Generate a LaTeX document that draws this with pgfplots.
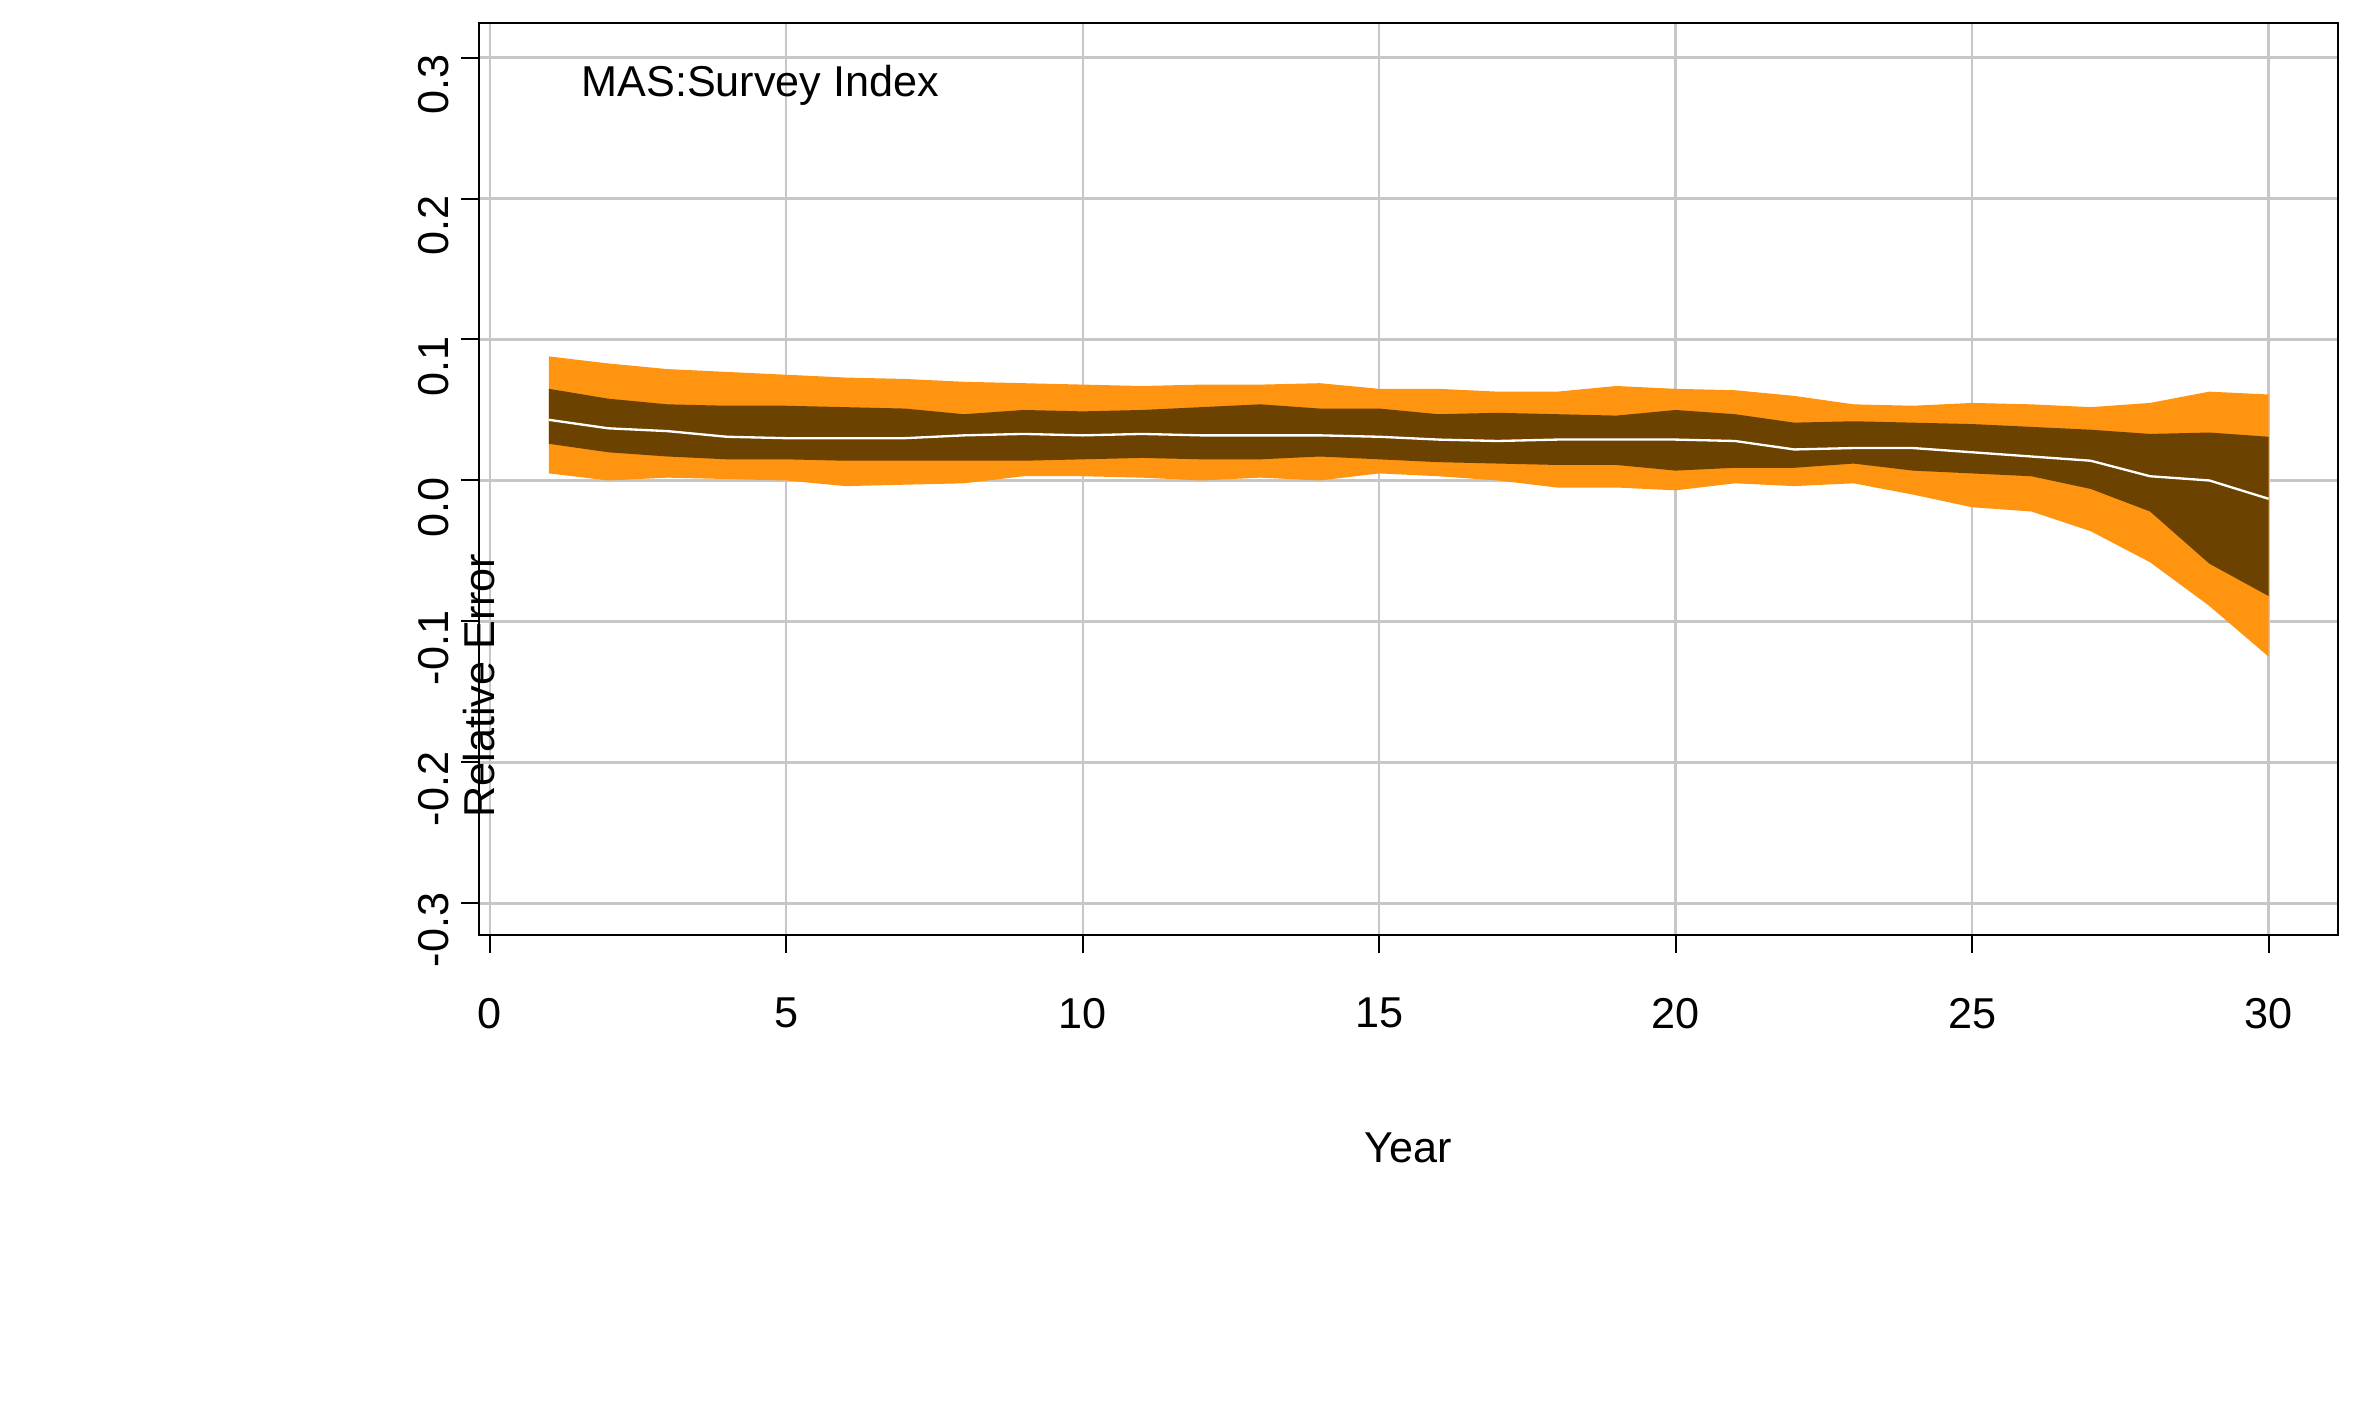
\documentclass[border=0pt]{standalone}
\usepackage{pgfplots}
\pgfplotsset{compat=1.18}
\usepgfplotslibrary{fillbetween}
\usepackage{fontspec}
\setmainfont{Liberation Sans}
\definecolor{orng}{HTML}{FF9410}
\definecolor{brwn}{HTML}{6B4200}
\begin{document}
\begin{tikzpicture}
\pgfplotstableread{
x ou ol iu il md
1 0.088 0.005 0.065 0.026 0.043
2 0.083 0.000 0.058 0.020 0.037
3 0.079 0.002 0.054 0.017 0.035
4 0.077 0.001 0.053 0.015 0.031
5 0.075 0.000 0.053 0.015 0.030
6 0.073 -0.004 0.052 0.014 0.030
7 0.072 -0.003 0.051 0.014 0.030
8 0.070 -0.002 0.047 0.014 0.032
9 0.069 0.003 0.050 0.014 0.033
10 0.068 0.003 0.049 0.015 0.032
11 0.067 0.002 0.050 0.016 0.033
12 0.068 0.000 0.052 0.015 0.032
13 0.068 0.002 0.054 0.015 0.032
14 0.069 0.000 0.051 0.017 0.032
15 0.065 0.005 0.051 0.015 0.031
16 0.065 0.003 0.047 0.013 0.029
17 0.063 0.000 0.048 0.012 0.028
18 0.063 -0.005 0.047 0.011 0.029
19 0.067 -0.005 0.046 0.011 0.029
20 0.065 -0.007 0.050 0.007 0.029
21 0.064 -0.002 0.047 0.009 0.028
22 0.060 -0.004 0.041 0.009 0.022
23 0.054 -0.002 0.042 0.012 0.023
24 0.053 -0.010 0.041 0.007 0.023
25 0.055 -0.019 0.040 0.005 0.020
26 0.054 -0.022 0.038 0.003 0.017
27 0.052 -0.036 0.036 -0.006 0.014
28 0.055 -0.058 0.033 -0.022 0.003
29 0.063 -0.089 0.034 -0.059 0.000
30 0.061 -0.125 0.031 -0.082 -0.013
}\data
\begin{axis}[
  at={(0,0)}, anchor=south west,
  scale only axis, width=557.7bp, height=273.6bp,
  xmin=-0.18, xmax=31.17, ymin=-0.3224, ymax=0.3245,
  xtick={0,5,...,30}, ytick={-0.3,-0.2,...,0.3},
  yticklabels={-0.3,-0.2,-0.1,0.0,0.1,0.2,0.3},
  grid=major, major grid style={color=black!22, line width=0.7pt},
  tick align=outside, major tick length=5.4bp,
  tick style={black, line width=0.6pt},
  xtick pos=bottom, ytick pos=left,
  axis line style={line width=0.6pt},
  ticklabel style={font=\fontsize{13}{15}\selectfont},
  /pgf/number format/assume math mode=true,
  xticklabel style={yshift=-10bp},
  yticklabel style={rotate=90, anchor=south, xshift=-8bp},
  label style={font=\fontsize{13}{15}\selectfont},
  xlabel={Year}, ylabel={Relative Error},
  xlabel style={at={(axis description cs:0.5,0)}, anchor=center, yshift=-64bp},
  ylabel style={at={(axis description cs:0,0.5)}, anchor=center, xshift=-62bp, rotate=0},
]
\addplot[draw=none, name path=ou] table[x=x,y=ou]{\data};
\addplot[draw=none, name path=ol] table[x=x,y=ol]{\data};
\addplot[draw=none, name path=iu] table[x=x,y=iu]{\data};
\addplot[draw=none, name path=il] table[x=x,y=il]{\data};
\addplot[orng] fill between[of=ou and ol];
\addplot[brwn] fill between[of=iu and il];
\addplot[white, line width=0.7pt] table[x=x,y=md]{\data};
\node[anchor=west, font=\fontsize{13}{15}\selectfont] at (axis cs:1.35,0.28) {MAS:Survey Index};
\end{axis}
\path[use as bounding box] (-143.7bp,-144.6bp) rectangle (564.9bp,280.5bp);
\end{tikzpicture}
\end{document}
